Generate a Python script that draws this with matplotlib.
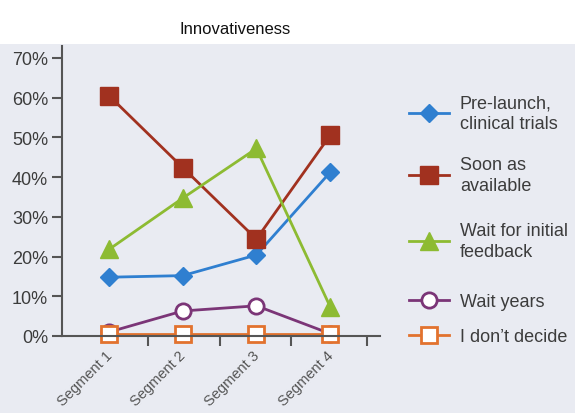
import numpy as np
import matplotlib.pyplot as plt
from matplotlib.patches import Rectangle

plt.rcParams['font.family'] = ['Liberation Sans Narrow', 'Liberation Sans', 'DejaVu Sans']

segmentos = ['Segment 1', 'Segment 2', 'Segment 3', 'Segment 4']
pre_launch = [14.8, 15.2, 20.4, 41.2]
soon_available = [60.5, 42.4, 24.4, 50.5]
wait_feedback = [21.8, 34.7, 47.2, 7.4]
wait_years = [1.0, 6.3, 7.6, 0.6]
dont_decide = [0.6, 0.6, 0.6, 0.6]

series = [
    (pre_launch, 'Pre-launch,\nclinical trials', '#2f7fd0', 'D', 'fill', 9),
    (soon_available, 'Soon as\navailable', '#a1311f', 's', 'fill', 13),
    (wait_feedback, 'Wait for initial\nfeedback', '#8dbb32', '^', 'fill', 13),
    (wait_years, 'Wait years', '#7b3577', 'o', 'open', 11),
    (dont_decide, "I don\u2019t decide", '#e2722e', 's', 'open', 11),
]
# centro vertical de cada item da legenda (pixels a partir do topo)
legenda_y = [114, 176, 242, 303, 338]

fundo = '#e9ebf2'
texto = '#3c3c3c'

fig = plt.figure(figsize=(5.75, 4.14), dpi=100, facecolor='white')
fig.patches.append(Rectangle((0, 0), 1, 0.891, transform=fig.transFigure,
                             facecolor=fundo, edgecolor='none', zorder=-10))

W, H = 575, 414
ax = fig.add_axes([62 / W, (H - 337) / H, 318 / W, 290 / H])
ax.set_facecolor('none')

x = np.arange(len(segmentos))
linhas = []
for vals, nome, cor, mk, estilo, ms in series:
    face = cor if estilo == 'fill' else 'white'
    l, = ax.plot(x, vals, color=cor, lw=2, marker=mk, ms=ms, mfc=face,
                 mec=cor, mew=2 if estilo == 'open' else 1, label=nome, clip_on=False)
    linhas.append(l)

ax.set_xlim(-0.638, 3.677)
ax.set_ylim(0, 73)
ax.set_yticks(np.arange(0, 71, 10))
ax.set_yticklabels([f'{v}%' for v in range(0, 71, 10)], fontsize=13, color=texto)
ax.set_xticks([0.53, 1.5, 2.47, 3.5])
ax.set_xticklabels([])
for i, s in enumerate(segmentos):
    ax.text(i + 0.08, -3.0, s, rotation=45, ha='right', va='top', fontsize=10.5,
            color='#555555', transform=ax.transData)

for lado in ['top', 'right']:
    ax.spines[lado].set_visible(False)
for lado in ['left', 'bottom']:
    ax.spines[lado].set_color('#555555')
    ax.spines[lado].set_linewidth(1.5)
ax.tick_params(axis='both', direction='out', length=7, width=1.5, color='#555555', pad=3)

for l, yy in zip(linhas, legenda_y):
    leg = fig.legend(handles=[l], loc='center left',
                     bbox_to_anchor=(402 / W, (H - yy) / H), frameon=False,
                     fontsize=13, labelcolor=texto, handlelength=2.2,
                     handletextpad=0.6, borderaxespad=0)
    for t in leg.get_texts():
        t.set_linespacing(1.3)

fig.text(235 / W, (H - 30) / H, 'Innovativeness', ha='center', va='center',
         fontsize=12, color='#111111')

fig.savefig('out.png', dpi=100)
